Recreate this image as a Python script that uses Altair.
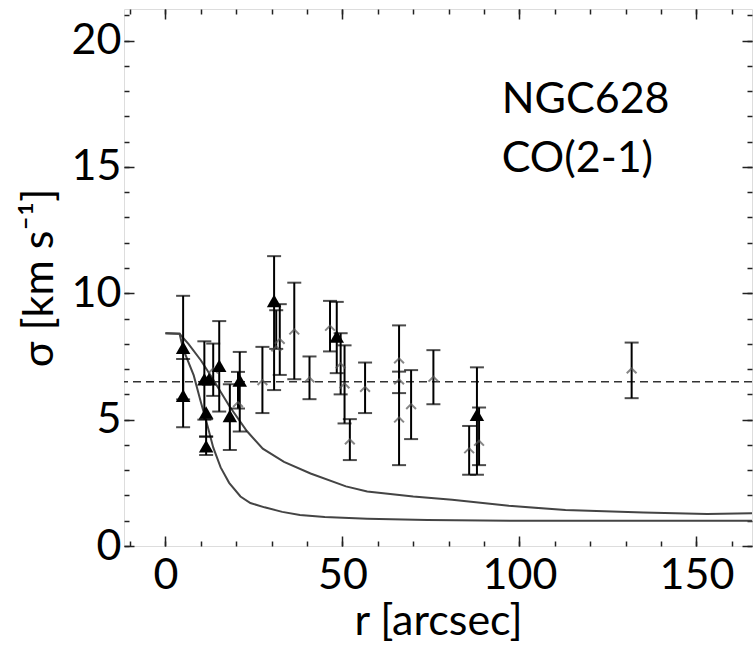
import altair as alt
import pandas as pd

# ---------------- data ----------------
# model curves (r in arcsec, sigma in km/s)
up_r = [0, 4, 6.5, 10, 13, 18, 23, 27.5, 33.5, 41, 51, 57, 70, 81, 97, 113, 135, 153, 166]
up_s = [8.42, 8.4, 8.0, 7.35, 6.7, 5.55, 4.55, 3.85, 3.33, 2.87, 2.36, 2.16, 1.96, 1.83, 1.59, 1.42, 1.33, 1.27, 1.3]
lo_r = [0, 4, 5, 8, 10, 12, 13.5, 15.6, 18, 21.2, 24, 28, 33, 38, 45, 57, 74, 100, 166]
lo_s = [8.42, 8.4, 7.8, 6.75, 5.7, 4.7, 3.9, 3.11, 2.5, 1.96, 1.7, 1.53, 1.35, 1.23, 1.15, 1.08, 1.03, 1.0, 1.0]

# filled triangles
tri_r = [5.0, 5.0, 11.0, 12.3, 11.5, 11.5, 15.2, 18.2, 21.0, 30.7, 48.4, 88.0]
tri_s = [7.85, 5.95, 6.6, 6.6, 5.28, 3.95, 7.13, 5.15, 6.55, 9.7, 8.29, 5.19]
tri_lo = [5.8, 4.7, 5.0, 6.6, 4.33, 3.6, 5.32, 3.8, 4.53, 6.17, 6.84, 2.82]
tri_hi = [9.9, 7.4, 8.1, 6.6, 5.02, 4.33, 8.9, 6.4, 7.68, 11.47, 9.66, 7.07]

# open (grey) symbols
opn_r = [13.5, 20.5, 27.4, 31.3, 32.3, 36.4, 40.7, 46.5, 49.5, 50.6, 52.1, 56.4, 66.0, 66.0, 66.0, 69.4, 75.7, 85.8, 88.6, 131.7]
opn_s = [6.93, 5.6, 6.47, 7.8, 8.1, 8.47, 6.57, 8.62, 7.13, 6.34, 4.12, 6.2, 7.33, 4.99, 6.5, 5.52, 6.6, 3.77, 4.07, 6.93]
opn_lo = [5.94, 5.44, 5.26, 7.8, 6.77, 6.6, 5.81, 7.7, 6.0, 4.85, 3.4, 5.26, 3.2, 4.99, 6.05, 4.23, 5.61, 2.82, 3.2, 5.85]
opn_hi = [8.01, 6.89, 7.88, 9.33, 9.57, 10.42, 7.5, 9.7, 8.42, 7.94, 5.02, 7.26, 8.73, 4.99, 6.9, 6.96, 7.75, 4.75, 5.48, 8.05]

sigma_mean = [6.5]

x_major = [0, 50, 100, 150]
x_minor = [-10, 0, 10, 20, 30, 40, 50, 60, 70, 80, 90, 100, 110, 120, 130, 140, 150, 160]
y_major = [0, 5, 10, 15, 20]
y_minor = list(range(0, 22))

label_lines = ["NGC628", "CO(2-1)"]
label_r = [95.0, 95.0]
label_s = [17.15, 14.8]

# ---------------- layout ----------------
W, H = 628, 537
XDOM = [-11.7, 165.7]
YDOM = [0, 21.25]
FONT = "Lato"
INK = "#222222"

curves = pd.DataFrame({
    "r": up_r + lo_r,
    "s": up_s + lo_s,
    "model": ["a"] * len(up_r) + ["b"] * len(lo_r),
    "order": list(range(len(up_r))) + list(range(len(lo_r))),
})
tri = pd.DataFrame({"r": tri_r, "s": tri_s, "lo": tri_lo, "hi": tri_hi})
opn = pd.DataFrame({"r": opn_r, "s": opn_s, "lo": opn_lo, "hi": opn_hi})
bars = pd.concat([tri, opn], ignore_index=True)
bars = bars[bars["hi"] > bars["lo"]]
caps = pd.DataFrame({"r": list(bars["r"]) * 2, "y": list(bars["lo"]) + list(bars["hi"])})
mean_df = pd.DataFrame({"s": sigma_mean})
labels = pd.DataFrame({"r": label_r, "s": label_s, "t": label_lines})

xs = alt.Scale(domain=XDOM, nice=False, zero=False)
ys = alt.Scale(domain=YDOM, nice=False, zero=False)


def xa(**kw):
    base = dict(grid=False, domain=False, title=None, labels=False, ticks=False)
    base.update(kw)
    return alt.Axis(**base)


main = alt.Chart(curves).mark_line(color="#444444", strokeWidth=2, clip=True).encode(
    x=alt.X("r:Q", scale=xs, axis=xa(labels=True, values=x_major, title="r [arcsec]",
                                      labelFont=FONT, labelFontSize=43, labelColor="black",
                                      labelPadding=8, tickSize=0,
                                      titleFont=FONT, titleFontSize=43, titleFontWeight="normal",
                                      titleColor="black", titlePadding=3)),
    y=alt.Y("s:Q", scale=ys, axis=alt.Axis(grid=False, domain=False, ticks=False, tickSize=0,
                                            values=y_major, labelFont=FONT, labelFontSize=43,
                                            labelColor="black", labelPadding=3,
                                            title="σ [km s⁻¹]", titleFont=FONT, titleFontSize=43,
                                            titleFontWeight="normal", titleColor="black",
                                            titlePadding=10)),
    detail="model:N",
    order="order:Q",
)


def tick_layer(xorient, yorient, xvals, yvals, size):
    return alt.Chart(curves).mark_point(opacity=0).encode(
        x=alt.X("r:Q", scale=xs, axis=xa(orient=xorient, offset=-H, ticks=True, values=xvals,
                                          tickSize=size, tickWidth=1.5, tickColor=INK)),
        y=alt.Y("s:Q", scale=ys, axis=xa(orient=yorient, offset=-W, ticks=True, values=yvals,
                                          tickSize=size, tickWidth=1.5, tickColor=INK)),
    )


t1 = tick_layer("top", "right", x_major, y_major, 10)
t2 = tick_layer("top", "right", x_minor, y_minor, 5)
t3 = tick_layer("bottom", "left", x_major, y_major, 10)
t4 = tick_layer("bottom", "left", x_minor, y_minor, 5)

noax = dict(axis=None)

dashed = alt.Chart(mean_df).mark_rule(color="#333333", strokeWidth=1.6, strokeDash=[8, 5]).encode(
    y=alt.Y("s:Q", scale=ys, **noax)
)

bar_rules = alt.Chart(bars).mark_rule(color="black", strokeWidth=2).encode(
    x=alt.X("r:Q", scale=xs, **noax),
    y=alt.Y("lo:Q", scale=ys, **noax),
    y2="hi:Q",
)
cap_ticks = alt.Chart(caps).mark_tick(color="black", thickness=2, size=14, orient="horizontal").encode(
    x=alt.X("r:Q", scale=xs, **noax),
    y=alt.Y("y:Q", scale=ys, **noax),
)

chevron = "M -1 0.5 L 0 -0.5 L 1 0.5"
open_pts = alt.Chart(opn).mark_point(shape=chevron, filled=False, color="#555555",
                                     strokeWidth=2, size=95).encode(
    x=alt.X("r:Q", scale=xs, **noax),
    y=alt.Y("s:Q", scale=ys, **noax),
)
tri_pts = alt.Chart(tri).mark_point(shape="triangle-up", filled=True, color="black",
                                    opacity=1, size=210).encode(
    x=alt.X("r:Q", scale=xs, **noax),
    y=alt.Y("s:Q", scale=ys, **noax),
)

txt = alt.Chart(labels).mark_text(align="left", baseline="alphabetic", font=FONT,
                                  fontSize=43, color="black").encode(
    x=alt.X("r:Q", scale=xs, **noax),
    y=alt.Y("s:Q", scale=ys, **noax),
    text="t:N",
)

chart = alt.layer(
    main, t1, t2, t3, t4, dashed, bar_rules, cap_ticks, open_pts, tri_pts, txt
).resolve_axis(x="independent", y="independent").properties(
    width=W, height=H,
    autosize=alt.AutoSizeParams(type="none"),
    padding={"left": 124, "top": 9, "right": 4, "bottom": 107},
).configure_view(stroke=INK, strokeWidth=2).configure(background="white")

chart.save("out.html", embed_options={"renderer": "svg", "actions": False})
